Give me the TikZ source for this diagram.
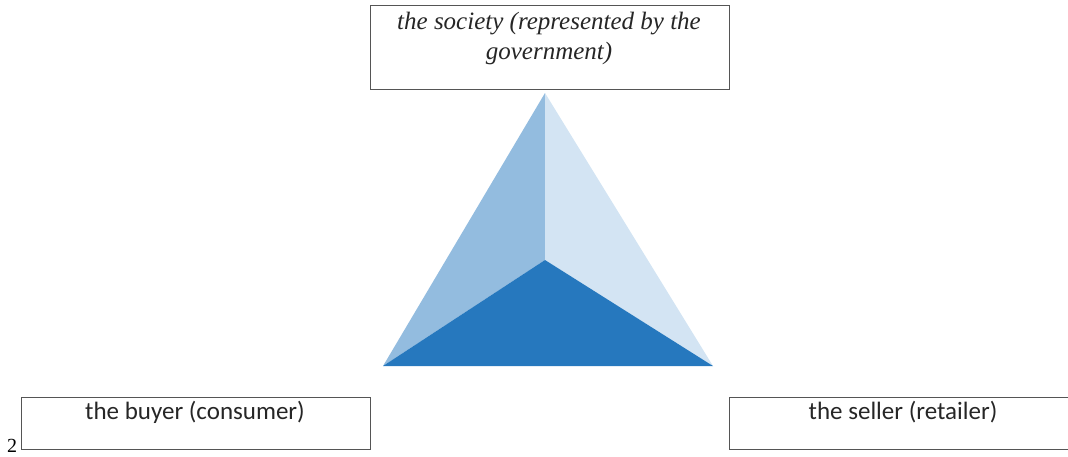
\documentclass[tikz,border=0pt]{standalone}
\usepackage{fontspec}
\setmainfont{Liberation Serif}
\newfontfamily\carl{Carlito}
\definecolor{faceL}{HTML}{93BCDF}
\definecolor{faceR}{HTML}{D3E4F3}
\definecolor{faceB}{HTML}{2678BE}
\definecolor{boxline}{HTML}{555555}
\begin{document}
\begin{tikzpicture}[x=1pt,y=-1pt,
  lbl/.style={draw=boxline,line width=1pt,inner sep=0pt,anchor=north west},
  bt/.style={font=\carl\fontsize{25}{28}\selectfont,text=black!85}]
\useasboundingbox (0,0) rectangle (1068,456);
% triangle
\coordinate (apex) at (545,93);
\coordinate (bl) at (383,366);
\coordinate (br) at (713,366);
\coordinate (ctr) at (545,260);
\fill[faceL] (apex) -- (ctr) -- (bl) -- cycle;
\fill[faceR] (apex) -- (br) -- (ctr) -- cycle;
\fill[faceB] (bl) -- (ctr) -- (br) -- cycle;
% top box
\node[lbl,minimum width=359pt,minimum height=84pt] (soc) at (370,5) {};
\node[font=\itshape\fontsize{25}{30}\selectfont,text=black!85,align=center] (soct) at (549,38)
  {the society (represented by the\\government)};
% bottom-left box
\node[lbl,minimum width=349pt,minimum height=52pt] (buy) at (21,397) {};
\node[bt] (buyt) at (195,412) {the buyer (consumer)};
\node[font=\rmfamily\fontsize{20}{22}\selectfont,anchor=base] (num) at (12,452) {2};
% bottom-right box (open to the right edge)
\coordinate (sr1) at (1068,397);
\coordinate (sr2) at (729,397);
\coordinate (sr3) at (729,449);
\coordinate (sr4) at (1068,449);
\draw[boxline,line width=1pt] (sr1) -- (sr2) -- (sr3) -- (sr4);
\node[bt] (sellt) at (903,412) {the seller (retailer)};
\end{tikzpicture}
\end{document}
